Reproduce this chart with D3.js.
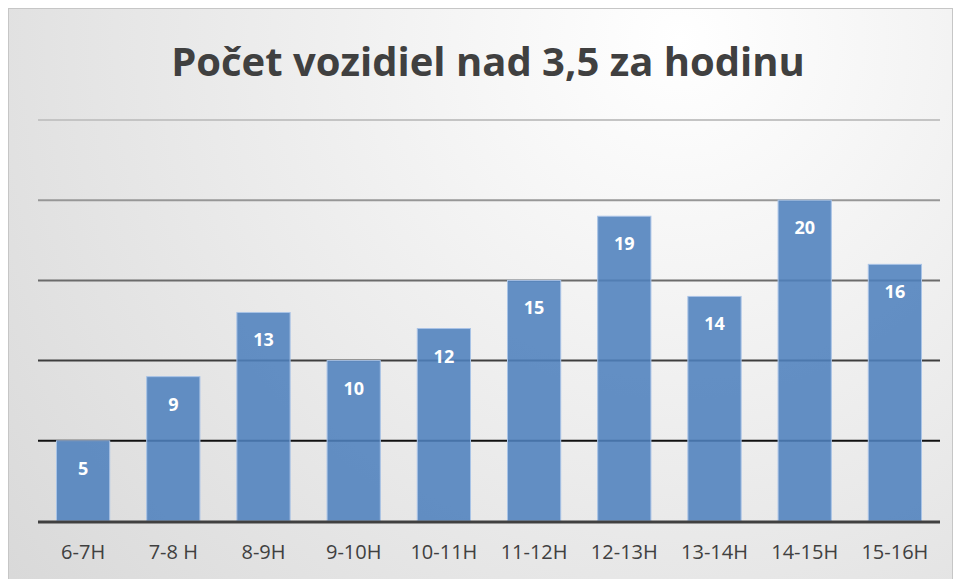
<!DOCTYPE html>
<html>
<head>
<meta charset="utf-8">
<script src="https://cdn.jsdelivr.net/npm/d3@7"></script>
<style>
  body { margin: 0; background: #fff; }
  text { font-family: "Open Sans", "Noto Sans", sans-serif; }
  .x-axis text { font-size: 20px; fill: #404040; }
</style>
</head>
<body>
<div id="chart"></div>
<script>
const categories = ["6-7H", "7-8 H", "8-9H", "9-10H", "10-11H", "11-12H", "12-13H", "13-14H", "14-15H", "15-16H"];
const values = [5, 9, 13, 10, 12, 15, 19, 14, 20, 16];
const gridTicks = [5, 10, 15, 20, 25];
const title = "Počet vozidiel nad 3,5 za hodinu";

const fullWidth = 957;
const fullHeight = 579;
const margin = { top: 120, right: 17, bottom: 58, left: 38 };
const width = fullWidth - margin.left - margin.right;
const height = fullHeight - margin.top - margin.bottom;

const svg = d3
  .select("#chart")
  .append("svg")
  .attr("width", fullWidth)
  .attr("height", fullHeight);

const defs = svg.append("defs");
const bg = defs
  .append("radialGradient")
  .attr("id", "bg")
  .attr("gradientUnits", "userSpaceOnUse")
  .attr("cx", 680)
  .attr("cy", 40)
  .attr("r", 880);
bg.append("stop").attr("offset", "0%").attr("stop-color", "#ffffff");
bg.append("stop").attr("offset", "100%").attr("stop-color", "#d8d8d8");

svg
  .append("rect")
  .attr("x", 8.5)
  .attr("y", 8.5)
  .attr("width", 944)
  .attr("height", 580)
  .attr("fill", "url(#bg)")
  .attr("stroke", "#c6c6c6")
  .attr("stroke-width", 1);

svg
  .append("text")
  .attr("x", 488)
  .attr("y", 76)
  .attr("text-anchor", "middle")
  .style("font-size", "40px")
  .style("font-weight", "bold")
  .style("fill", "#404040")
  .text(title);

const g = svg
  .append("g")
  .attr("transform", `translate(${margin.left}, ${margin.top})`);

const x = d3.scaleBand().domain(categories).range([0, width]).paddingInner(0.41).paddingOuter(0.205);
const y = d3.scaleLinear().domain([0, 25]).range([height, 0]);

const gridColor = d3.scaleLinear().domain([5, 25]).range(["#111111", "#c4c4c4"]);

g.append("g")
  .selectAll("line")
  .data(gridTicks)
  .enter()
  .append("line")
  .attr("x1", 0)
  .attr("x2", width)
  .attr("y1", d => y(d))
  .attr("y2", d => y(d))
  .attr("stroke", d => gridColor(d))
  .attr("stroke-width", 2);

g.append("g")
  .selectAll("rect")
  .data(values)
  .enter()
  .append("rect")
  .attr("x", (d, i) => x(categories[i]))
  .attr("y", d => y(d))
  .attr("width", x.bandwidth())
  .attr("height", d => y(0) - y(d))
  .attr("fill", "#4f81bd")
  .attr("fill-opacity", 0.88)
  .attr("stroke", "#a9c3e6")
  .attr("stroke-width", 1);

g.append("line")
  .attr("x1", 0)
  .attr("x2", width)
  .attr("y1", y(0) + 1)
  .attr("y2", y(0) + 1)
  .attr("stroke", "#404040")
  .attr("stroke-width", 3);

g.append("g")
  .selectAll("text")
  .data(values)
  .enter()
  .append("text")
  .attr("x", (d, i) => x(categories[i]) + x.bandwidth() / 2)
  .attr("y", d => y(d) + 34)
  .attr("text-anchor", "middle")
  .style("font-size", "18px")
  .style("font-weight", "bold")
  .style("fill", "#ffffff")
  .text(d => d);

const xAxis = g
  .append("g")
  .attr("class", "x-axis")
  .attr("transform", `translate(0, ${height})`)
  .call(d3.axisBottom(x).tickSize(0).tickPadding(24));
xAxis.select(".domain").remove();
xAxis.attr("font-size", 20).attr("font-family", null);
</script>
</body>
</html>
